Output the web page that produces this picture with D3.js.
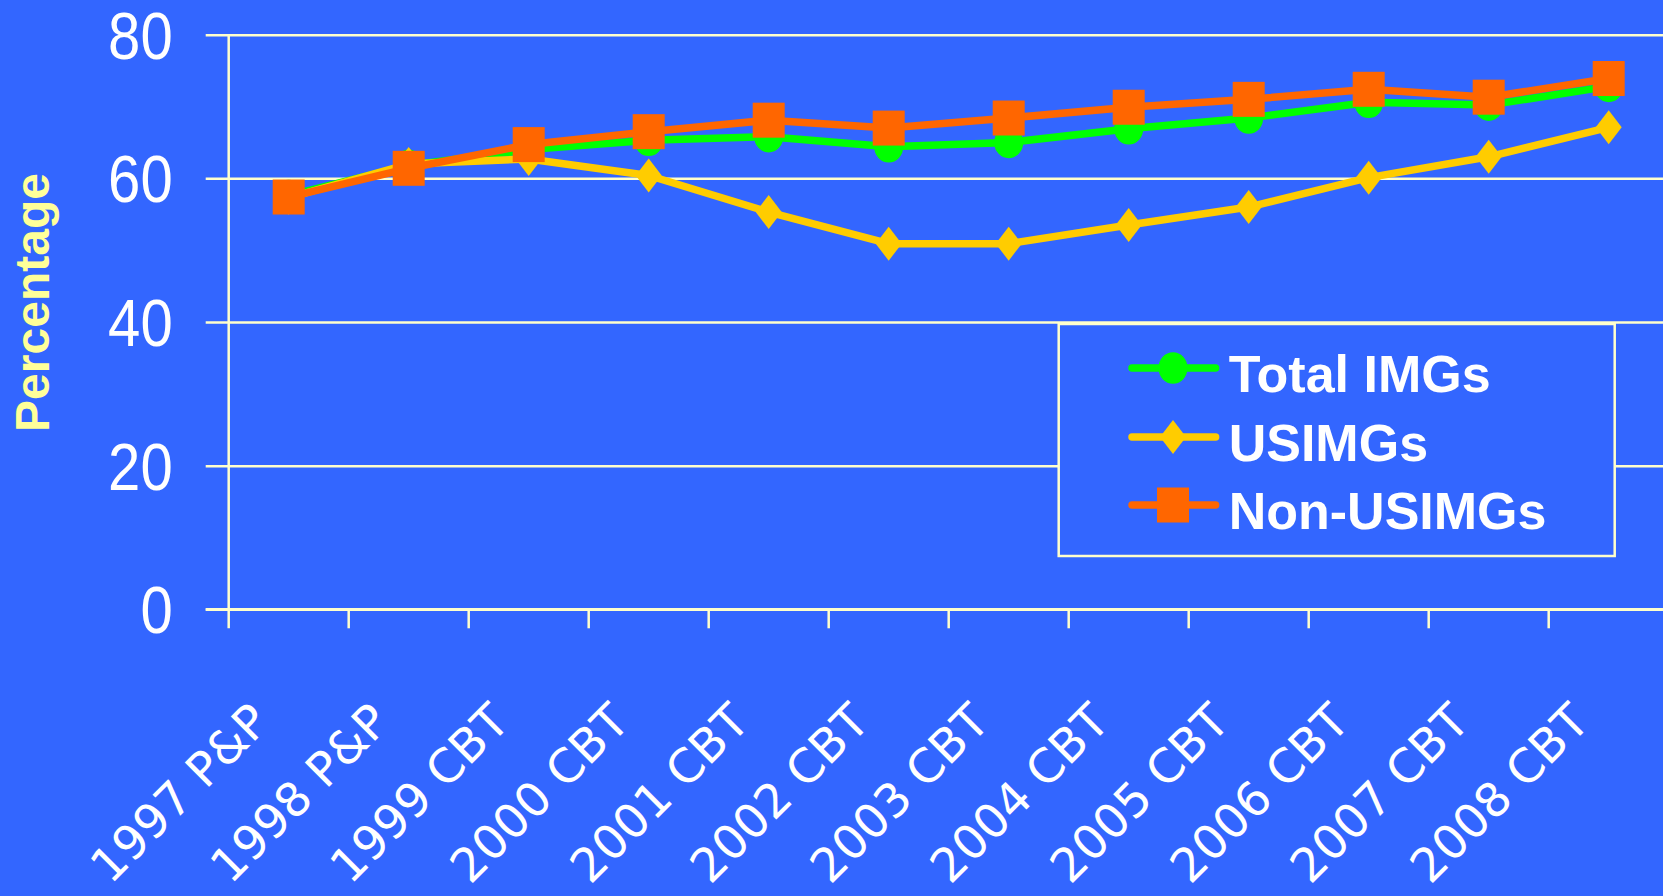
<!DOCTYPE html>
<html>
<head>
<meta charset="utf-8">
<script src="https://cdn.jsdelivr.net/npm/d3@7"></script>
<style>
  html, body { margin: 0; padding: 0; background: #3366FF; overflow: hidden; }
  svg { display: block; }
</style>
</head>
<body>
<svg id="chart" width="1663" height="896"></svg>
<script>
// Exam years / formats on the category axis
const categories = ["1997 P&P", "1998 P&P", "1999 CBT", "2000 CBT", "2001 CBT", "2002 CBT",
                    "2003 CBT", "2004 CBT", "2005 CBT", "2006 CBT", "2007 CBT", "2008 CBT"];

// Percentages per group
const totalIMGs    = [57.6, 61.8, 64.0, 65.3, 65.8, 64.4, 65.0, 66.9, 68.4, 70.6, 70.2, 72.8];
const usIMGs       = [57.3, 62.0, 62.7, 60.4, 55.3, 50.9, 50.9, 53.5, 56.0, 60.1, 63.0, 67.1];
const nonUsIMGs    = [57.4, 61.4, 64.7, 66.5, 68.1, 67.0, 68.4, 69.9, 71.0, 72.4, 71.3, 73.9];

const yTicks = [0, 20, 40, 60, 80];
const seriesNames = ["Total IMGs", "USIMGs", "Non-USIMGs"];

const series = [
  { name: seriesNames[0], values: totalIMGs, color: "#00FF00", marker: "circle" },
  { name: seriesNames[1], values: usIMGs,    color: "#FFCC00", marker: "diamond" },
  { name: seriesNames[2], values: nonUsIMGs, color: "#FF6600", marker: "square" }
];

const svg = d3.select("#chart");
const W = 1663, H = 896;
const axisColor = "#FFFFCC";

svg.append("rect").attr("width", W).attr("height", H).attr("fill", "#3366FF");

const plot = { left: 228.7, right: 1668.7, top: 34.7, bottom: 609.3 };

const x = d3.scaleBand().domain(categories).range([plot.left, plot.right]).padding(0);
const y = d3.scaleLinear().domain([0, 80]).range([plot.bottom, plot.top]);
const cx = c => x(c) + x.bandwidth() / 2;

// Horizontal gridlines with left tick stubs
const yAxis = d3.axisLeft(y).tickValues(yTicks).tickSize(-(plot.right - plot.left)).tickFormat("");
const gy = svg.append("g").attr("transform", `translate(${plot.left},0)`).call(yAxis);
gy.select(".domain").remove();
gy.selectAll(".tick line")
  .attr("x1", -23)
  .attr("stroke", axisColor).attr("stroke-width", 2.5);

// Y tick labels
svg.append("g").selectAll("text").data(yTicks).join("text")
  .attr("transform", d => `translate(172.7,${y(d) + 24}) scale(0.88,1)`)
  .attr("text-anchor", "end")
  .attr("fill", "#FFFFFF")
  .attr("font-family", "Liberation Sans, Arial, sans-serif")
  .attr("font-size", 66)
  .text(d => d);

// Vertical axis line
svg.append("line")
  .attr("x1", plot.left).attr("x2", plot.left)
  .attr("y1", plot.top).attr("y2", plot.bottom + 19)
  .attr("stroke", axisColor).attr("stroke-width", 2.5);

// Category axis: ticks at band boundaries
const gx = svg.append("g").attr("transform", `translate(0,${plot.bottom})`);
gx.append("line")
  .attr("x1", plot.left - 23).attr("x2", plot.right)
  .attr("stroke", axisColor).attr("stroke-width", 2.5);
gx.selectAll("line.tk").data(categories).join("line")
  .attr("class", "tk")
  .attr("x1", d => x(d) + x.bandwidth()).attr("x2", d => x(d) + x.bandwidth())
  .attr("y1", 0).attr("y2", 19)
  .attr("stroke", axisColor).attr("stroke-width", 2.5);

// Rotated category labels
svg.append("g").selectAll("text").data(categories).join("text")
  .attr("transform", d => `translate(${cx(d) - 17},724) rotate(-45)`)
  .attr("text-anchor", "end")
  .attr("fill", "#FFFFFF")
  .attr("font-family", "DejaVu Sans, sans-serif")
  .attr("font-size", 47)
  .text(d => d);

// Axis title
svg.append("text")
  .attr("transform", "translate(49.3,302.5) rotate(-90)")
  .attr("text-anchor", "middle")
  .attr("fill", "#FFFF99")
  .attr("font-family", "Liberation Sans, Arial, sans-serif")
  .attr("font-weight", "bold")
  .attr("font-size", 48)
  .text("Percentage");

// Marker shapes
function drawMarker(g, type, color) {
  if (type === "circle") {
    g.append("ellipse").attr("rx", 14.5).attr("ry", 15.8).attr("fill", color);
  } else if (type === "diamond") {
    g.append("path").attr("d", "M0,-17L13,0L0,17L-13,0Z").attr("fill", color);
  } else {
    g.append("rect").attr("x", -16).attr("y", -17.5).attr("width", 32).attr("height", 35).attr("fill", color);
  }
}

const line = d3.line().x((d, i) => cx(categories[i])).y(d => y(d));

series.forEach(s => {
  const g = svg.append("g");
  g.append("path")
    .attr("d", line(s.values))
    .attr("fill", "none")
    .attr("stroke", s.color)
    .attr("stroke-width", 7.5)
    .attr("stroke-linejoin", "round");
  s.values.forEach((v, i) => {
    const m = g.append("g").attr("transform", `translate(${cx(categories[i])},${y(v)})`);
    drawMarker(m, s.marker, s.color);
  });
});

// Legend
const legend = svg.append("g");
legend.append("rect")
  .attr("x", 1058.7).attr("y", 324).attr("width", 556).attr("height", 232)
  .attr("fill", "#3366FF").attr("stroke", axisColor).attr("stroke-width", 2.5);
const rowY = [368, 437, 505];
series.forEach((s, i) => {
  const r = legend.append("g").attr("transform", `translate(0,${rowY[i]})`);
  r.append("line").attr("x1", 1132).attr("x2", 1215.6)
    .attr("stroke", s.color).attr("stroke-width", 7.5).attr("stroke-linecap", "round");
  const m = r.append("g").attr("transform", "translate(1173,0)");
  drawMarker(m, s.marker, s.color);
  r.append("text")
    .attr("x", 1228.7).attr("y", 24)
    .attr("fill", "#FFFFFF")
    .attr("font-family", "Liberation Sans, Arial, sans-serif")
    .attr("font-weight", "bold")
    .attr("font-size", 52)
    .text(s.name);
});
</script>
</body>
</html>
